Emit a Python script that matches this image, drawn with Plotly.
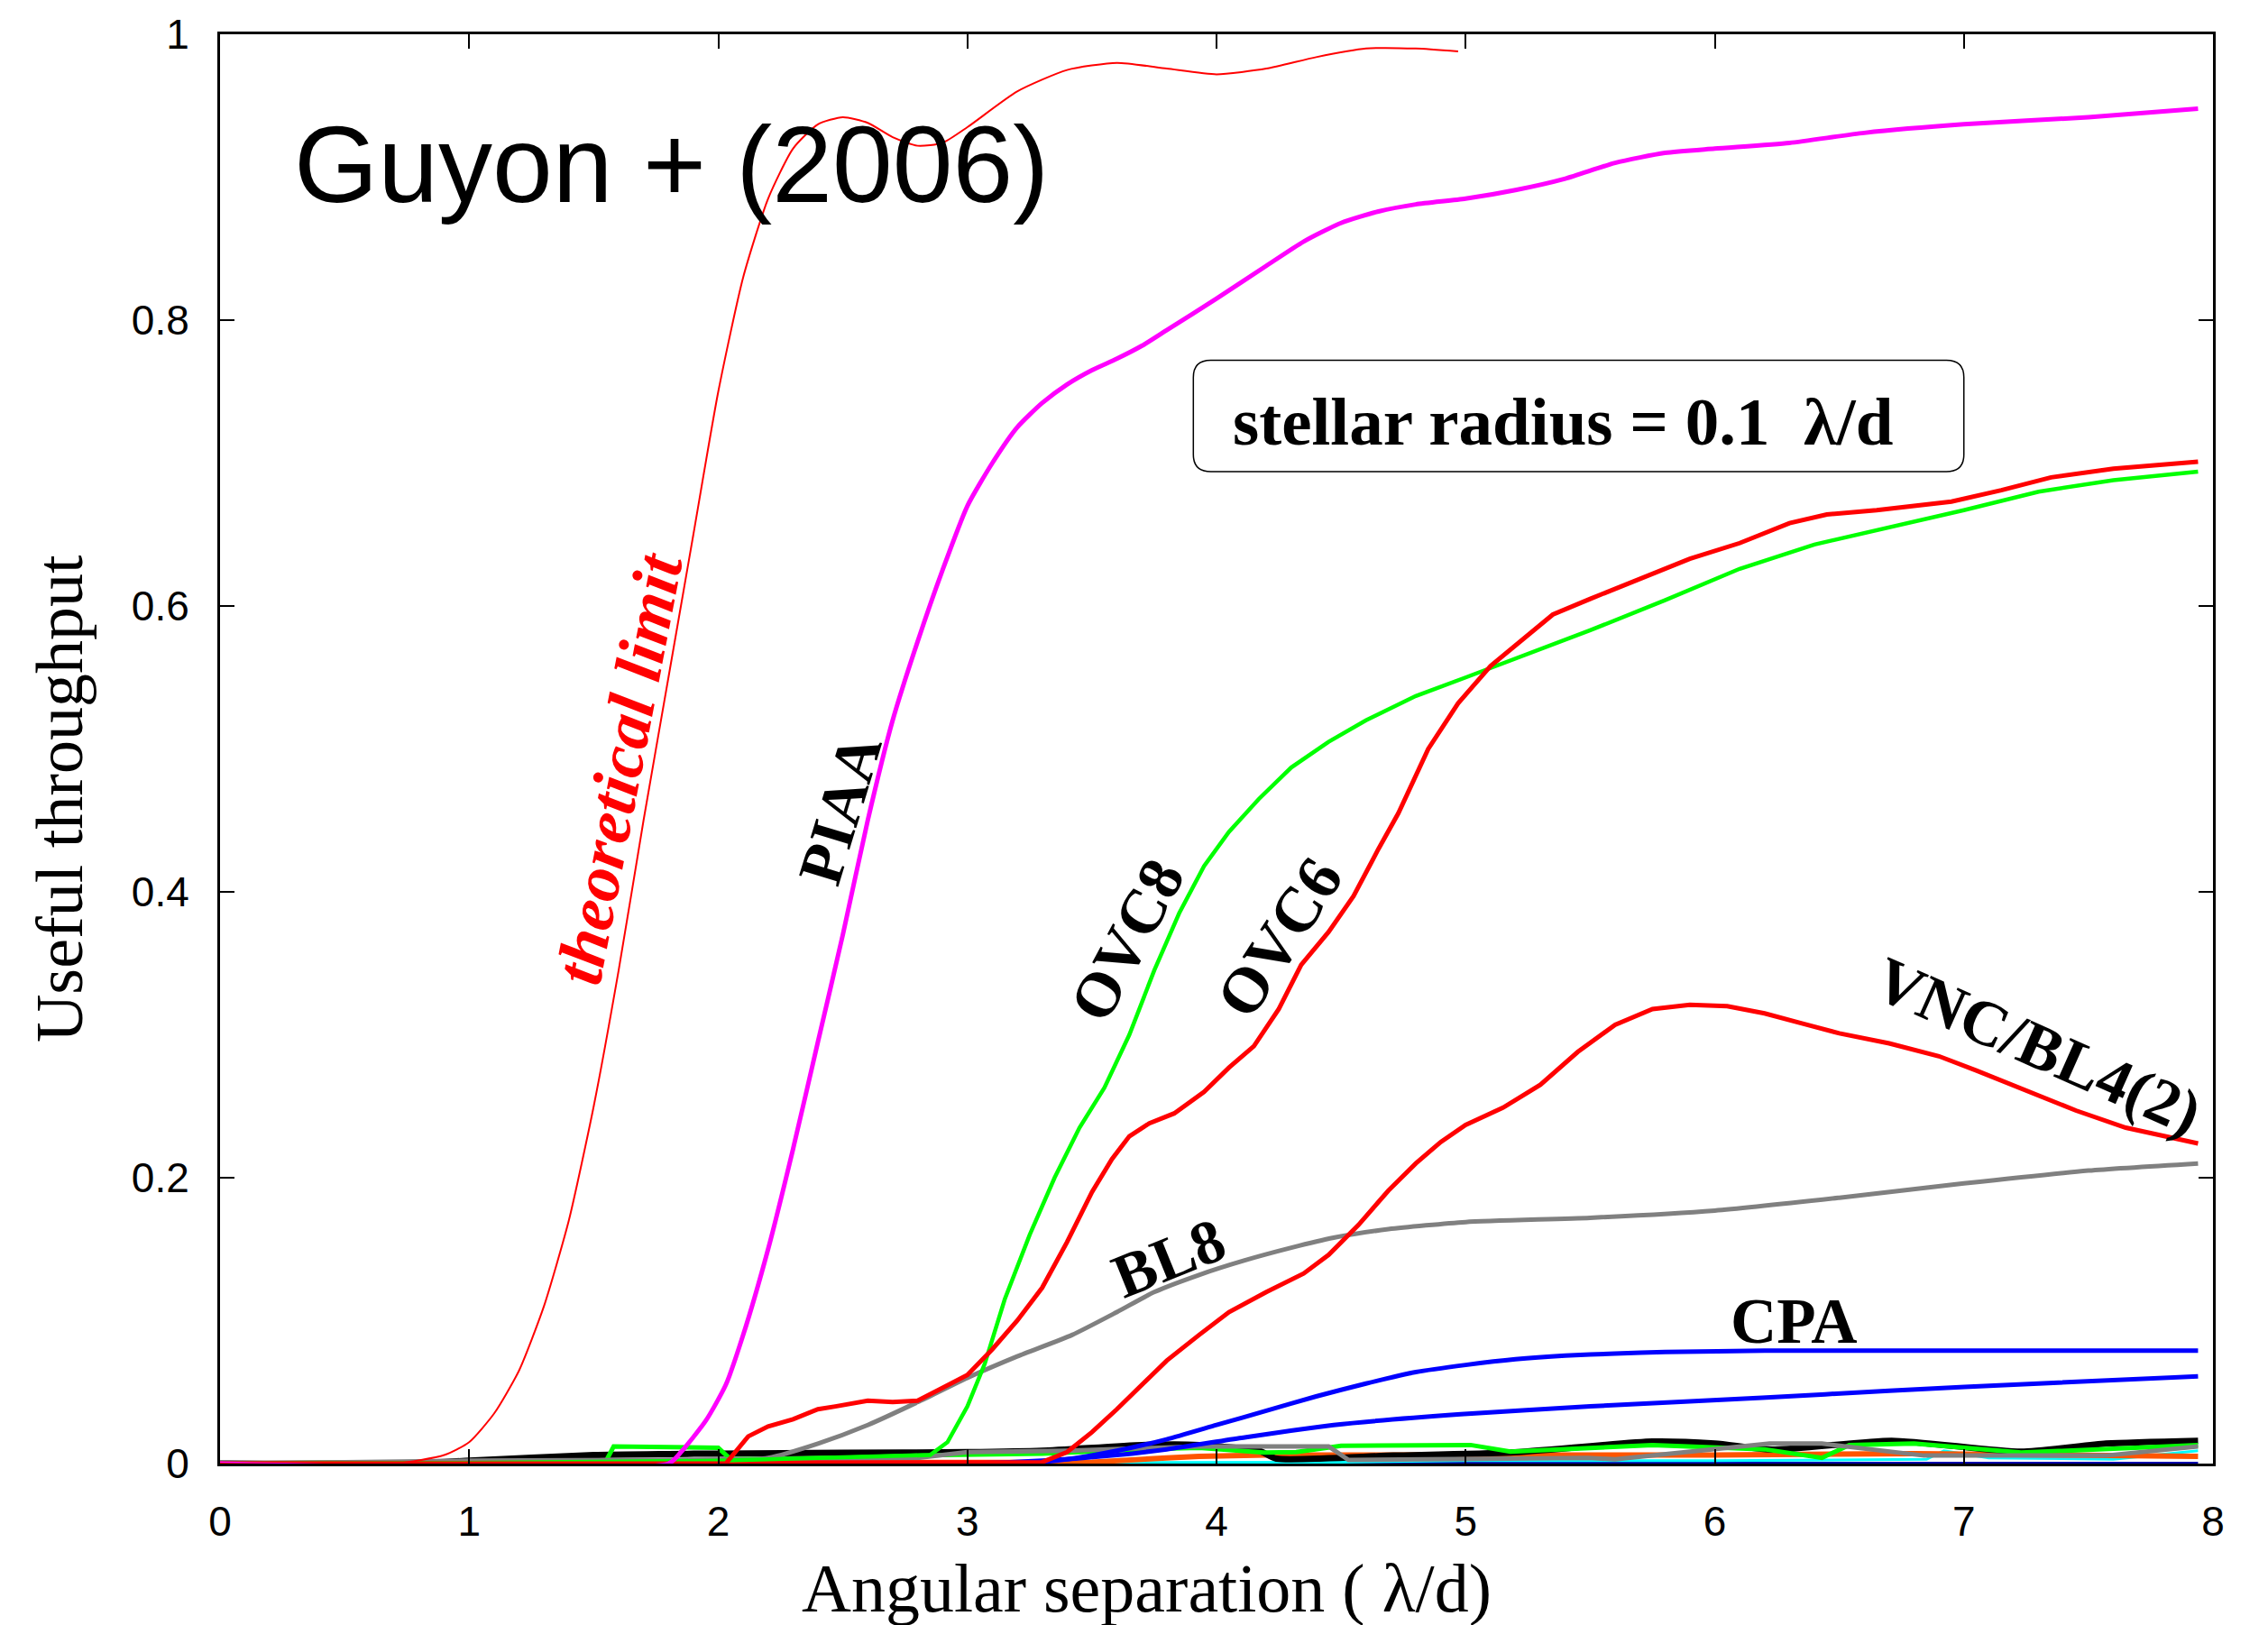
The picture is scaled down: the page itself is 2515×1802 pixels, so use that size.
import plotly.graph_objects as go

# ---------------- data ----------------
theo_x = [0, 0.7, 0.9, 1.0, 1.1, 1.2, 1.3, 1.4, 1.5, 1.6, 1.7, 1.8, 1.9, 2.0, 2.1, 2.2, 2.3, 2.4, 2.5,
          2.6, 2.7, 2.8, 2.9, 3.0, 3.2, 3.4, 3.6, 3.8, 4.0, 4.2, 4.4, 4.6, 4.8, 4.97]
theo_y = [0, 0.0, 0.006, 0.015, 0.035, 0.065, 0.11, 0.17, 0.25, 0.345, 0.45, 0.55, 0.65, 0.75, 0.83,
          0.885, 0.92, 0.937, 0.942, 0.938, 0.928, 0.922, 0.924, 0.935, 0.96, 0.975, 0.98, 0.976,
          0.972, 0.976, 0.984, 0.99, 0.99, 0.988]

piaa_x = [0, 1.8, 1.85, 1.95, 2.03, 2.1, 2.2, 2.3, 2.4, 2.5, 2.6, 2.7, 2.8, 2.9, 3.0, 3.1, 3.2, 3.3,
          3.4, 3.5, 3.6, 3.7, 3.8, 4.0, 4.2, 4.35, 4.5, 4.65, 4.8, 5.0, 5.2, 5.4, 5.6, 5.8, 6.0, 6.3,
          6.6, 7.0, 7.5, 7.94]
piaa_y = [0, 0.0, 0.008, 0.03, 0.055, 0.09, 0.15, 0.22, 0.295, 0.37, 0.45, 0.52, 0.575, 0.625, 0.67,
          0.70, 0.725, 0.742, 0.755, 0.765, 0.773, 0.782, 0.793, 0.815, 0.838, 0.855, 0.868, 0.876,
          0.881, 0.885, 0.891, 0.899, 0.91, 0.917, 0.92, 0.924, 0.931, 0.937, 0.942, 0.948]

ovc8_x = [0, 1.0, 2.0, 2.5, 2.85, 2.92, 3.0, 3.07, 3.15, 3.25, 3.35, 3.45, 3.55, 3.65, 3.75, 3.85,
          3.95, 4.05, 4.17, 4.3, 4.45, 4.6, 4.8, 5.0, 5.2, 5.5, 5.8, 6.1, 6.4, 6.7, 7.0, 7.3, 7.6, 7.94]
ovc8_y = [0, 0.0005, 0.002, 0.004, 0.006, 0.015, 0.04, 0.07, 0.115, 0.16, 0.2, 0.235, 0.263, 0.3,
          0.345, 0.385, 0.418, 0.442, 0.465, 0.487, 0.505, 0.52, 0.537, 0.55, 0.563, 0.583, 0.604,
          0.626, 0.643, 0.655, 0.667, 0.68, 0.688, 0.694]

ovc6_x = [0, 2.03, 2.12, 2.2, 2.3, 2.4, 2.47, 2.6, 2.7, 2.8, 2.89, 3.0, 3.1, 3.2, 3.3, 3.4, 3.5, 3.58,
          3.65, 3.73, 3.83, 3.95, 4.05, 4.15, 4.25, 4.34, 4.45, 4.55, 4.65, 4.73, 4.85, 4.97, 5.1,
          5.25, 5.35, 5.5, 5.7, 5.9, 6.1, 6.3, 6.45, 6.65, 6.95, 7.15, 7.35, 7.6, 7.94]
ovc6_y = [0, 0.0, 0.019, 0.026, 0.031, 0.038, 0.04, 0.044, 0.043, 0.044, 0.052, 0.062, 0.08, 0.1,
          0.123, 0.155, 0.19, 0.213, 0.229, 0.238, 0.245, 0.26, 0.277, 0.292, 0.318, 0.349, 0.372,
          0.397, 0.43, 0.455, 0.5, 0.532, 0.558, 0.58, 0.594, 0.605, 0.619, 0.633, 0.644, 0.658,
          0.664, 0.667, 0.673, 0.681, 0.69, 0.696, 0.701]

vnc_x = [0, 3.3, 3.4, 3.5, 3.6, 3.7, 3.8, 3.93, 4.05, 4.2, 4.35, 4.45, 4.57, 4.69, 4.8, 4.9, 5.0, 5.15,
         5.3, 5.45, 5.6, 5.75, 5.9, 6.05, 6.2, 6.35, 6.5, 6.7, 6.9, 7.05, 7.25, 7.45, 7.65, 7.94]
vnc_y = [0, 0.001, 0.008, 0.022, 0.038, 0.055, 0.072, 0.09, 0.106, 0.12, 0.133, 0.146, 0.167, 0.191,
         0.21, 0.225, 0.237, 0.249, 0.265, 0.288, 0.307, 0.318, 0.321, 0.32, 0.315, 0.308, 0.301,
         0.294, 0.285, 0.275, 0.261, 0.247, 0.235, 0.224]

bl8_x = [0, 1.0, 2.0, 2.2, 2.4, 2.6, 2.8, 3.0, 3.2, 3.42, 3.6, 3.75, 3.93, 4.11, 4.3, 4.47, 4.69, 5.0,
         5.5, 6.0, 6.5, 7.0, 7.5, 7.94]
bl8_y = [0, 0.0, 0.002, 0.004, 0.014, 0.027, 0.043, 0.06, 0.075, 0.09, 0.106, 0.12, 0.132, 0.142,
         0.151, 0.158, 0.164, 0.169, 0.172, 0.177, 0.186, 0.196, 0.205, 0.21]

cpa1_x = [0, 3.2, 3.4, 3.6, 3.8, 4.0, 4.2, 4.4, 4.6, 4.8, 5.0, 5.2, 5.4, 5.6, 5.8, 6.2, 7.0, 7.94]
cpa1_y = [0, 0.0, 0.003, 0.009, 0.017, 0.027, 0.037, 0.047, 0.056, 0.064, 0.069, 0.073, 0.0755,
          0.077, 0.078, 0.079, 0.079, 0.079]

cpa2_x = [0, 3.0, 3.3, 3.6, 3.8, 4.1, 4.47, 4.98, 5.5, 6.19, 6.7, 7.3, 7.94]
cpa2_y = [0, 0.0, 0.002, 0.006, 0.01, 0.018, 0.027, 0.0345, 0.04, 0.046, 0.051, 0.056, 0.061]

# low-level residual curves near zero
blk_x = [0, 0.75, 1.0, 1.5, 1.8, 2.0, 2.5, 3.0, 3.3, 3.7, 3.93, 4.17, 4.24, 4.71, 5.18, 5.75, 6.0,
         6.24, 6.71, 7.23, 7.57, 7.94]
blk_y = [0, 0.0, 0.002, 0.006, 0.0067, 0.007, 0.0075, 0.008, 0.009, 0.013, 0.013, 0.009, 0.0035,
         0.0056, 0.0077, 0.0154, 0.014, 0.0098, 0.016, 0.0083, 0.014, 0.016]

grn_x = [0, 1.0, 1.55, 1.58, 2.0, 2.05, 2.5, 2.9, 3.3, 3.7, 3.93, 4.19, 4.32, 4.5, 5.02, 5.18, 5.75,
         6.2, 6.43, 6.54, 6.8, 7.23, 7.94]
grn_y = [0, 0.001, 0.002, 0.012, 0.011, 0.003, 0.004, 0.006, 0.007, 0.01, 0.011, 0.0077, 0.008,
         0.0125, 0.013, 0.0083, 0.013, 0.01, 0.004, 0.013, 0.014, 0.0077, 0.013]

gry_x = [0, 1.0, 2.2, 2.8, 3.0, 3.4, 3.93, 4.45, 4.53, 5.49, 5.6, 6.22, 6.43, 6.84, 7.57, 7.94]
gry_y = [0, 0.002, 0.003, 0.004, 0.008, 0.009, 0.012, 0.012, 0.0025, 0.004, 0.003, 0.014, 0.014,
         0.0056, 0.0056, 0.012]

org_x = [0, 3.5, 3.8, 3.93, 4.2, 5.0, 6.0, 6.8, 7.5, 7.94]
org_y = [0, 0.001, 0.004, 0.005, 0.006, 0.006, 0.006, 0.007, 0.006, 0.005]

cyn_x = [0, 4.5, 5.0, 6.0, 6.85, 6.92, 7.1, 7.6, 7.94]
cyn_y = [0, 0.001, 0.002, 0.002, 0.003, 0.009, 0.004, 0.003, 0.009]

base_x = [0, 7.94]
base_y = [0, 0]

x_ticks = [0, 1, 2, 3, 4, 5, 6, 7, 8]
x_ticktext = ["0", "1", "2", "3", "4", "5", "6", "7", "8"]
y_ticks = [0, 0.2, 0.4, 0.6, 0.8, 1.0]
y_ticktext = ["0", "0.2", "0.4", "0.6", "0.8", "1"]

# ---------------- figure ----------------
fig = go.Figure()

def add(x, y, color, width, shape="linear"):
    fig.add_trace(go.Scatter(x=x, y=y, mode="lines", showlegend=False, hoverinfo="skip",
                             line=dict(color=color, width=width, shape=shape,
                                       smoothing=0.6 if shape == "spline" else None)))

add(base_x, base_y, "#0000AA", 4)
add(cyn_x, cyn_y, "#00FFFF", 3)
add(org_x, org_y, "#FF5500", 6)
add(blk_x, blk_y, "#000000", 7, "spline")
add(grn_x, grn_y, "#00FF00", 5)
add(gry_x, gry_y, "#808080", 5)
add(cpa2_x, cpa2_y, "#0000FF", 5, "spline")
add(cpa1_x, cpa1_y, "#0000FF", 5, "spline")
add(bl8_x, bl8_y, "#808080", 5, "spline")
add(vnc_x, vnc_y, "#FF0000", 5)
add(ovc8_x, ovc8_y, "#00FF00", 4.5)
add(ovc6_x, ovc6_y, "#FF0000", 5)
add(piaa_x, piaa_y, "#FF00FF", 5, "spline")
add(theo_x, theo_y, "#FF0000", 2, "spline")

serif = "Liberation Serif, Times New Roman, serif"
sans = "Liberation Sans, Arial, Helvetica, sans-serif"

def label(text, x, y, angle, color="black", size=68, italic=False):
    fig.add_annotation(x=x, y=y, xref="x", yref="y", text=text, showarrow=False,
                       textangle=angle, xanchor="center", yanchor="middle",
                       font=dict(family=serif, size=size, color=color, weight="bold",
                                 style="italic" if italic else "normal"))

label("theoretical limit", 1.60, 0.486, -79, color="#FF0000", size=74, italic=True)
label("PIAA", 2.49, 0.458, -73, size=69)
label("OVC8", 3.64, 0.3665, -62, size=70)
label("OVC6", 4.25, 0.368, -57, size=71)
label("BL8", 3.81, 0.1436, -22, size=69)
label("VNC/BL4(2)", 7.30, 0.292, 24, size=71)
label("CPA", 6.32, 0.100, 0, size=71)

# title
fig.add_annotation(x=0.0361, y=0.9094, xref="paper", yref="paper", text="Guyon + (2006)",
                   showarrow=False, xanchor="left", yanchor="middle",
                   font=dict(family=sans, size=120, color="black"))

# stellar radius box
x0, x1, y0, y1, rx, ry = 3.907, 7.0, 0.694, 0.772, 0.07, 0.012
path = (f"M {x0+rx},{y0} L {x1-rx},{y0} Q {x1},{y0} {x1},{y0+ry} L {x1},{y1-ry} "
        f"Q {x1},{y1} {x1-rx},{y1} L {x0+rx},{y1} Q {x0},{y1} {x0},{y1-ry} "
        f"L {x0},{y0+ry} Q {x0},{y0} {x0+rx},{y0} Z")
fig.add_shape(type="path", path=path, xref="x", yref="y", line=dict(color="black", width=1.5),
              fillcolor="rgba(0,0,0,0)")
fig.add_annotation(x=5.39, y=0.729, xref="x", yref="y", text="stellar radius = 0.1  λ/d",
                   showarrow=False, xanchor="center", yanchor="middle",
                   font=dict(family=serif, size=75, color="black", weight="bold"))

# axis titles
fig.add_annotation(x=0.465, y=-0.0875, xref="paper", yref="paper", text="Angular separation ( λ/d)",
                   showarrow=False, xanchor="center", yanchor="middle",
                   font=dict(family=serif, size=76, color="black"))
fig.add_annotation(x=-0.0805, y=0.465, xref="paper", yref="paper", text="Useful throughput",
                   showarrow=False, xanchor="center", yanchor="middle", textangle=-90,
                   font=dict(family=serif, size=74, color="black"))

axis_common = dict(showgrid=False, zeroline=False, showline=True, linecolor="black", linewidth=3,
                   mirror="ticks", ticks="inside", ticklen=16, tickwidth=2, tickcolor="black",
                   tickfont=dict(family=sans, size=46, color="black"), ticklabelstandoff=22)

fig.update_xaxes(range=[0, 8], tickmode="array", tickvals=x_ticks, ticktext=x_ticktext,
                 **axis_common)
fig.update_yaxes(range=[0, 1], tickmode="array", tickvals=y_ticks, ticktext=y_ticktext,
                 **axis_common)

fig.update_layout(width=2515, height=1802, autosize=False,
                  margin=dict(l=244, r=61, t=35, b=179),
                  plot_bgcolor="white", paper_bgcolor="white")

fig.write_html("out.html")
